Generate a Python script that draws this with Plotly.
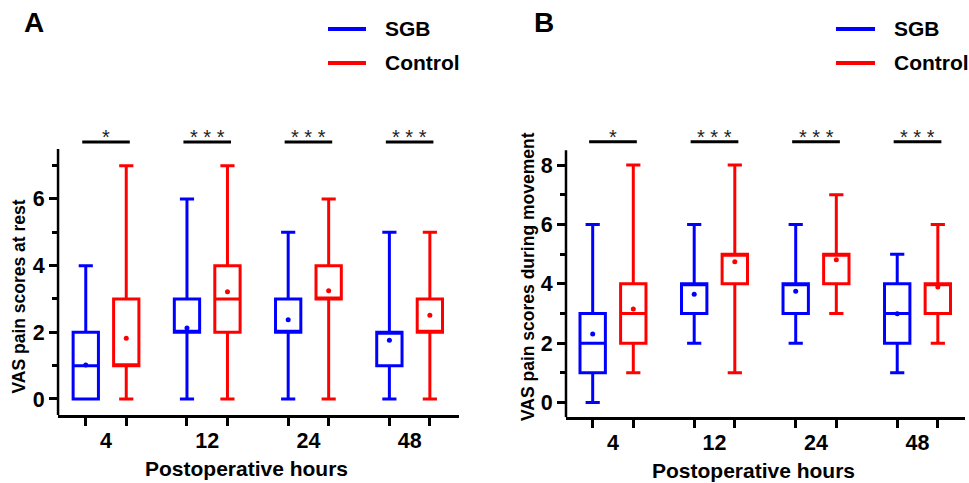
import plotly.graph_objects as go

# ---------------- data ----------------
groups = ["4", "12", "24", "48"]
series = ["SGB", "Control"]
colors = {"SGB": "#0000FF", "Control": "#FF0000"}

# Panel A: VAS pain scores at rest
rest_sgb_min = [0, 0, 0, 0]
rest_sgb_q1 = [0, 2, 2, 1]
rest_sgb_med = [1, 2, 2, 2]
rest_sgb_q3 = [2, 3, 3, 2]
rest_sgb_max = [4, 6, 5, 5]
rest_sgb_mean = [1.02, 2.13, 2.38, 1.76]

rest_ctl_min = [0, 0, 0, 0]
rest_ctl_q1 = [1, 2, 3, 2]
rest_ctl_med = [1, 3, 3, 2]
rest_ctl_q3 = [3, 4, 4, 3]
rest_ctl_max = [7, 7, 6, 5]
rest_ctl_mean = [1.82, 3.22, 3.25, 2.51]

rest_sig = ["*", "* * *", "* * *", "* * *"]

# Panel B: VAS pain scores during movement
move_sgb_min = [0, 2, 2, 1]
move_sgb_q1 = [1, 3, 3, 2]
move_sgb_med = [2, 4, 4, 3]
move_sgb_q3 = [3, 4, 4, 4]
move_sgb_max = [6, 6, 6, 5]
move_sgb_mean = [2.31, 3.65, 3.75, 2.99]

move_ctl_min = [1, 1, 3, 2]
move_ctl_q1 = [2, 4, 4, 3]
move_ctl_med = [3, 5, 5, 4]
move_ctl_q3 = [4, 5, 5, 4]
move_ctl_max = [8, 8, 7, 6]
move_ctl_mean = [3.15, 4.74, 4.81, 3.89]

move_sig = ["*", "* * *", "* * *", "* * *"]

# ---------------- layout constants ----------------
FONT = "Liberation Sans, Arial, sans-serif"
OFFSET = 0.2
BOXW = 0.25
group_pos = list(range(len(groups)))
pos = {"SGB": [g - OFFSET for g in group_pos], "Control": [g + OFFSET for g in group_pos]}

panels = [
    dict(xa="x", ya="y",
         stats={"SGB": (rest_sgb_min, rest_sgb_q1, rest_sgb_med, rest_sgb_q3, rest_sgb_max, rest_sgb_mean),
                "Control": (rest_ctl_min, rest_ctl_q1, rest_ctl_med, rest_ctl_q3, rest_ctl_max, rest_ctl_mean)},
         sig=rest_sig, sig_y=7.71, axis_top=7.5, ybot=-0.48),
    dict(xa="x2", ya="y2",
         stats={"SGB": (move_sgb_min, move_sgb_q1, move_sgb_med, move_sgb_q3, move_sgb_max, move_sgb_mean),
                "Control": (move_ctl_min, move_ctl_q1, move_ctl_med, move_ctl_q3, move_ctl_max, move_ctl_mean)},
         sig=move_sig, sig_y=8.79, axis_top=8.5, ybot=-0.5),
]

fig = go.Figure()
shapes = []
annotations = []

for p in panels:
    for s in series:
        mn, q1, md, q3, mx, mean = p["stats"][s]
        fig.add_trace(go.Box(
            x=pos[s], q1=q1, median=md, q3=q3, lowerfence=mn, upperfence=mx,
            width=BOXW, whiskerwidth=0.56, boxpoints=False,
            line=dict(color=colors[s], width=3), fillcolor="rgba(0,0,0,0)",
            xaxis=p["xa"], yaxis=p["ya"], showlegend=False, name=s,
        ))
        fig.add_trace(go.Scatter(
            x=pos[s], y=mean, mode="markers",
            marker=dict(color=colors[s], size=5),
            xaxis=p["xa"], yaxis=p["ya"], showlegend=False, name=s + " mean",
        ))
    # y-axis line
    shapes.append(dict(type="line", xref=p["xa"] + " domain", x0=0, x1=0,
                       yref=p["ya"], y0=p["ybot"], y1=p["axis_top"],
                       line=dict(color="black", width=2.5)))
    # significance bars
    for g, txt in zip(group_pos, p["sig"]):
        shapes.append(dict(type="line", xref=p["xa"], x0=g - 0.235, x1=g + 0.235,
                           yref=p["ya"], y0=p["sig_y"], y1=p["sig_y"],
                           line=dict(color="black", width=3)))
        annotations.append(dict(text=txt, x=g, y=p["sig_y"], xref=p["xa"], yref=p["ya"],
                                showarrow=False, xanchor="center", yanchor="bottom", yshift=-8,
                                font=dict(family=FONT, size=20, color="#222222")))

xaxis_common = dict(
    tickvals=group_pos, ticktext=groups, ticks="outside", ticklen=4,
    tickcolor="rgba(0,0,0,0)", tickwidth=2.5,
    minor=dict(tickvals=pos["SGB"] + pos["Control"], ticks="outside", ticklen=8,
               tickwidth=2.5, tickcolor="black"),
    showline=True, linecolor="black", linewidth=2.5,
    showgrid=False, zeroline=False,
    tickfont=dict(family=FONT, size=21.5, color="black", weight="bold"),
)
yaxis_common = dict(
    ticks="outside", ticklen=8, tickwidth=2.5, tickcolor="black",
    minor=dict(tickvals=[1, 3, 5, 7], ticks="outside", ticklen=5, tickwidth=2.5,
               tickcolor="black"),
    showline=False, showgrid=False, zeroline=False,
    tickfont=dict(family=FONT, size=21.5, color="black", weight="bold"),
)

fig.update_layout(
    width=969, height=483,
    margin=dict(l=0, r=0, t=0, b=0),
    paper_bgcolor="white", plot_bgcolor="white",
    boxmode="overlay", showlegend=False,
    xaxis=dict(domain=[0.0599, 0.4737], range=[-0.474, 3.488], anchor="y", **xaxis_common),
    yaxis=dict(domain=[0.1408, 0.7468], range=[-0.48, 8.3], anchor="x",
               tickvals=[0, 2, 4, 6], **yaxis_common),
    xaxis2=dict(domain=[0.5841, 0.9959], range=[-0.463, 3.468], anchor="y2", **xaxis_common),
    yaxis2=dict(domain=[0.136, 0.738], range=[-0.5, 9.3], anchor="x2",
                tickvals=[0, 2, 4, 6, 8], **yaxis_common),
)

bold = dict(family=FONT, color="black", weight="bold")


def label(text, x, y, size, angle=0, xanchor="center"):
    return dict(text=text, x=x, y=y, xref="paper", yref="paper", showarrow=False,
                xanchor=xanchor, yanchor="middle", textangle=angle,
                font=dict(size=size, **bold))


# axis titles and panel letters
annotations += [
    label("Postoperative hours", 0.2539, 0.029, 21),
    label("Postoperative hours", 0.7776, 0.025, 21),
    label("VAS pain scores at rest", 0.0196, 0.386, 17.5, angle=-90),
    label("VAS pain scores during movement", 0.5449, 0.4265, 17.5, angle=-90),
    label("A", 0.0346, 0.9524, 28),
    label("B", 0.5609, 0.9524, 28),
]

# manual legends
legend_rows = [0.94, 0.8696]
for (lx0, lx1, tx) in [(0.3385, 0.3777, 0.3953), (0.8627, 0.903, 0.9205)]:
    for s, ly in zip(series, legend_rows):
        shapes.append(dict(type="line", xref="paper", yref="paper", x0=lx0, x1=lx1,
                           y0=ly, y1=ly, line=dict(color=colors[s], width=4)))
        annotations.append(label(s, tx, ly, 21, xanchor="left"))

fig.update_layout(shapes=shapes, annotations=annotations)
fig.write_html("out.html", config={"displayModeBar": False},
               post_script="document.body.style.margin='0';document.body.style.overflow='hidden';")
